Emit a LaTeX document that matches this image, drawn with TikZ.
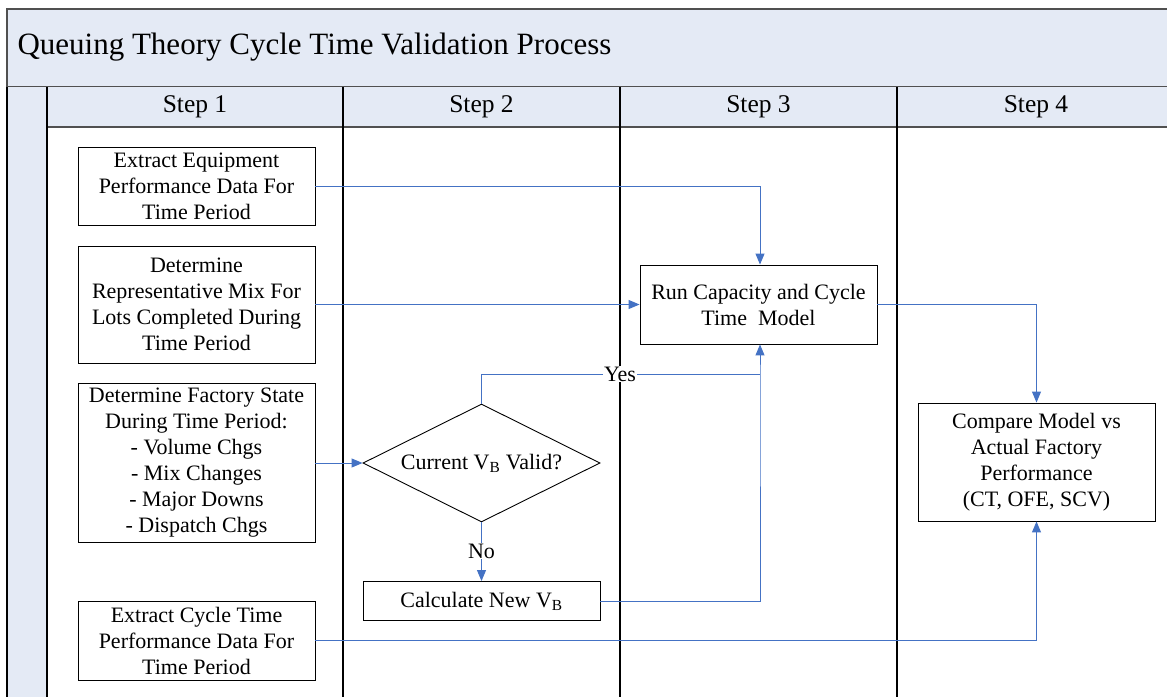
\documentclass[tikz,border=0pt]{standalone}
\usepackage{fontspec}
\setmainfont{Liberation Serif}
\usetikzlibrary{arrows.meta,shapes.geometric}
\definecolor{lanefill}{RGB}{228,234,245}
\definecolor{flowblue}{RGB}{68,114,196}
\definecolor{frame}{RGB}{80,80,80}
\tikzset{
  procbox/.style={draw=black, line width=0.9pt, fill=white, inner sep=0pt,
    align=center, font=\fontsize{22}{26}\selectfont},
  flow/.style={draw=flowblue, line width=1pt, -{Triangle[length=11pt,width=9pt]}},
  flowplain/.style={draw=flowblue, line width=1pt},
  lane/.style={draw=black, line width=1.2pt},
  steplabel/.style={font=\fontsize{25.5}{28}\selectfont},
  flowlabel/.style={fill=white, inner sep=1pt, font=\fontsize{22}{24}\selectfont}
}
\begin{document}
\begin{tikzpicture}[x=1pt,y=-1pt]
\useasboundingbox (0,0) rectangle (1167,696);
% title band
\fill[lanefill] (7,9) rectangle (1172,87);
\draw[frame, line width=1.6pt] (1172,9) -- (7,9) -- (7,87) -- (1172,87);
\node[anchor=west, font=\fontsize{31}{34}\selectfont] (title) at (14,47)
  {Queuing Theory Cycle Time Validation Process};
% header row and left strip
\fill[lanefill] (7,87) rectangle (1172,127);
\fill[lanefill] (7,127) rectangle (47,700);
\draw[frame, line width=1.4pt] (47,127) -- (1172,127);
\draw[lane] (7,87) -- (7,700);
\draw[lane] (47,87) -- (47,700);
\draw[lane] (343,87) -- (343,700);
\draw[lane] (620,87) -- (620,700);
\draw[lane] (897,87) -- (897,700);
\node[steplabel] (s1) at (195,107) {Step 1};
\node[steplabel] (s2) at (481.5,107) {Step 2};
\node[steplabel] (s3) at (758.5,107) {Step 3};
\node[steplabel] (s4) at (1036,107) {Step 4};
% step 1 boxes
\node[procbox, minimum width=237pt, minimum height=78pt] (ext) at (196.5,186)
  {Extract Equipment\\Performance Data For\\Time Period};
\node[procbox, minimum width=237pt, minimum height=117pt] (mix) at (196.5,304.5)
  {Determine\\Representative Mix For\\Lots Completed During\\Time Period};
\node[procbox, minimum width=237pt, minimum height=159pt] (fac) at (196.5,462.5)
  {Determine Factory State\\During Time Period:\\- Volume Chgs\\- Mix Changes\\- Major Downs\\- Dispatch Chgs};
\node[procbox, minimum width=237pt, minimum height=79pt] (ctd) at (196.5,640.5)
  {Extract Cycle Time\\Performance Data For\\Time Period};
% step 2
\node[procbox, diamond, aspect=2, minimum width=237pt, minimum height=118pt] (dec) at (481.5,463)
  {Current V\textsubscript{B} Valid?};
\node[procbox, minimum width=237pt, minimum height=39pt] (calc) at (481.5,601)
  {Calculate New V\textsubscript{B}};
% step 3
\node[procbox, minimum width=237pt, minimum height=79pt] (run) at (758.5,304.5)
  {Run Capacity and Cycle\\Time\ \ Model};
% step 4
\node[procbox, minimum width=237pt, minimum height=118pt] (cmp) at (1036.5,462)
  {Compare Model vs\\Actual Factory\\Performance\\(CT, OFE, SCV)};
% connectors
\coordinate (yj) at (760,374);
\draw[flow] (ext.east) -| (run.north -| yj);
\draw[flow] (mix.east) -- (run.west |- mix.east);
\draw[flow] (fac.east |- dec.west) -- (dec.west);
\draw[flowplain] (dec.north) |- (yj);
\draw[flow] (calc.east) -| (yj) -- (run.south -| yj);
\node[flowlabel] (yes) at (620,374) {Yes};
\draw[flow] (dec.south) -- (calc.north);
\node[flowlabel] (no) at (481.5,551) {No};
\draw[flow] (run.east) -| (cmp.north);
\draw[flow] (ctd.east) -| (cmp.south);
\end{tikzpicture}
\end{document}
